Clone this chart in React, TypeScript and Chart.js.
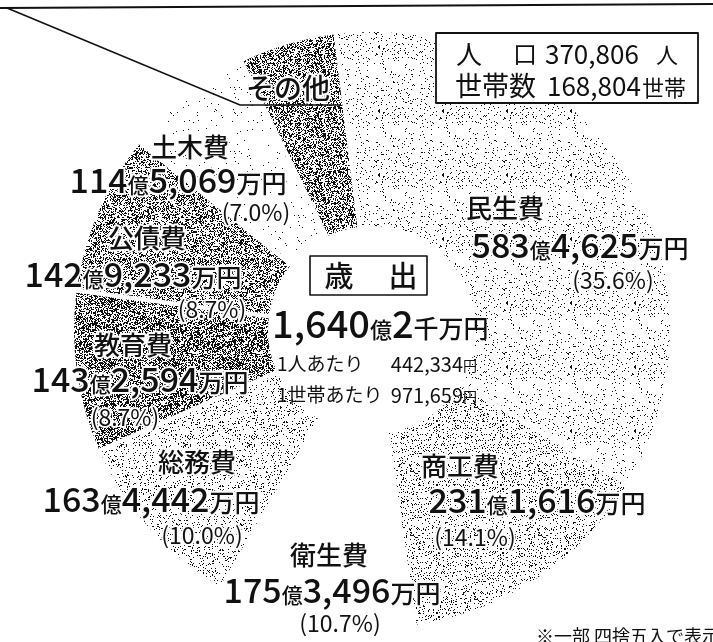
import { useEffect, useRef } from 'react';
import { Chart, registerables } from 'chart.js';

Chart.register(...registerables);

// ---- data ----
const categories = ['民生費', '商工費', '衛生費', '総務費', '教育費', '公債費', '土木費', 'その他'];
const values = [583.4625, 231.1616, 175.3496, 163.4442, 143.2594, 142.9233, 114.5069, 86.1];
const okuLabels = ['583', '231', '175', '163', '143', '142', '114', ''];
const manLabels = ['4,625', '1,616', '3,496', '4,442', '2,594', '9,233', '5,069', ''];
const pctLabels = ['35.6%', '14.1%', '10.7%', '10.0%', '8.7%', '8.7%', '7.0%', ''];
const totalOku = '1,640';
const totalSen = '2';
const perPerson = '442,334';
const perHousehold = '971,659';
const population = '370,806';
const households = '168,804';

// ---- styling / layout ----
const dotDensity = [0.06, 0.13, 0, 0.1, 0.5, 0.38, 0.012, 0.42];
const labelLayout = [
  { name: [505, 208], amt: [580, 258], pct: [613, 280] },
  { name: [460, 466], amt: [537, 513], pct: [475, 537] },
  { name: [329, 555], amt: [332, 603], pct: [340, 623] },
  { name: [197, 462], amt: [151, 512], pct: [202, 535] },
  { name: [133, 345], amt: [140, 392], pct: [125, 417] },
  { name: [147, 238], amt: [133, 287], pct: [212, 309] },
  { name: [190, 147], amt: [178, 193], pct: [256, 212] },
  { name: [288, 88], amt: [0, 0], pct: [0, 0] },
];
const FONT = '"Noto Sans CJK JP", "Noto Sans", sans-serif';

function makePattern(density: number, seed: number): CanvasPattern | string {
  if (density <= 0) return '#ffffff';
  const c = document.createElement('canvas');
  c.width = 64;
  c.height = 64;
  const g = c.getContext('2d')!;
  g.fillStyle = '#ffffff';
  g.fillRect(0, 0, 64, 64);
  g.fillStyle = '#111111';
  let s = seed * 9301 + 49297;
  const rnd = () => {
    s = (s * 1103515245 + 12345) % 2147483648;
    return s / 2147483648;
  };
  for (let y = 0; y < 64; y++) {
    for (let x = 0; x < 64; x++) {
      if (rnd() < density) g.fillRect(x, y, 1, 1);
    }
  }
  return g.createPattern(c, 'repeat')!;
}

function drawSegs(
  ctx: CanvasRenderingContext2D,
  segs: [string, number, number?][],
  x: number,
  y: number,
  align: 'center' | 'left',
  halo = true
) {
  ctx.textAlign = 'left';
  let total = 0;
  const fontOf = (sz: number, w?: number) => `${w ?? 400} ${sz}px ${FONT}`;
  const widths = segs.map(([t, sz, w]) => {
    ctx.font = fontOf(sz, w);
    const wd = ctx.measureText(t).width;
    total += wd;
    return wd;
  });
  let cx = align === 'center' ? x - total / 2 : x;
  segs.forEach(([t, sz, w], i) => {
    ctx.font = fontOf(sz, w);
    if (halo) {
      ctx.strokeStyle = '#ffffff';
      ctx.lineWidth = 4;
      ctx.lineJoin = 'round';
      ctx.strokeText(t, cx, y);
    }
    ctx.fillStyle = '#111111';
    ctx.fillText(t, cx, y);
    cx += widths[i];
  });
}

const labelPlugin = {
  id: 'budgetLabels',
  afterDraw(chart: any) {
    const ctx: CanvasRenderingContext2D = chart.ctx;
    ctx.save();
    // frame lines
    ctx.strokeStyle = '#111';
    ctx.lineWidth = 2;
    ctx.beginPath();
    ctx.moveTo(0, 8);
    ctx.lineTo(713, 4);
    ctx.stroke();
    ctx.lineWidth = 1.6;
    ctx.beginPath();
    ctx.moveTo(7, 8);
    ctx.lineTo(240, 105);
    ctx.lineTo(340, 105);
    ctx.stroke();

    // slice labels
    categories.forEach((name, i) => {
      const L = labelLayout[i];
      ctx.textBaseline = 'middle';
      drawSegs(ctx, [[name, i === 7 ? 28 : 26, 500]], L.name[0], L.name[1], 'center');
      if (okuLabels[i]) {
        ctx.textBaseline = 'alphabetic';
        drawSegs(
          ctx,
          [[okuLabels[i], 34, 500], ['億', 21, 500], [manLabels[i], 34, 500], ['万円', 25, 500]],
          L.amt[0],
          L.amt[1],
          'center'
        );
        ctx.textBaseline = 'middle';
        drawSegs(ctx, [[`(${pctLabels[i]})`, 23]], L.pct[0], L.pct[1], 'center');
      }
    });

    // centre box
    ctx.strokeStyle = '#111';
    ctx.lineWidth = 1.6;
    ctx.strokeRect(310, 256, 117, 39);
    ctx.textBaseline = 'middle';
    drawSegs(ctx, [['歳', 29, 500]], 339, 276, 'center', false);
    drawSegs(ctx, [['出', 29, 500]], 403, 276, 'center', false);
    ctx.textBaseline = 'alphabetic';
    drawSegs(ctx, [[totalOku, 38, 500], ['億', 22, 500], [totalSen, 38, 500], ['千万円', 25, 500]], 272, 338, 'left', false);
    ctx.textBaseline = 'middle';
    drawSegs(ctx, [['1人あたり', 19]], 277, 364, 'left', false);
    drawSegs(ctx, [['1世帯あたり', 19]], 277, 395, 'left', false);
    ctx.textAlign = 'right';
    ctx.font = `400 20px ${FONT}`;
    ctx.fillStyle = '#111';
    ctx.fillText(perPerson, 463, 364);
    ctx.fillText(perHousehold, 463, 395);
    drawSegs(ctx, [['円', 14]], 463, 366, 'left', false);
    drawSegs(ctx, [['円', 14]], 463, 397, 'left', false);

    // info box
    ctx.fillStyle = '#fff';
    ctx.fillRect(436, 33, 262, 70);
    ctx.strokeStyle = '#111';
    ctx.lineWidth = 1.8;
    ctx.strokeRect(436, 33, 262, 70);
    ctx.textBaseline = 'middle';
    drawSegs(ctx, [['人', 26]], 456, 54, 'left', false);
    drawSegs(ctx, [['口', 24]], 513, 54, 'left', false);
    drawSegs(ctx, [[population, 26]], 545, 54, 'left', false);
    drawSegs(ctx, [['人', 22]], 656, 55, 'left', false);
    drawSegs(ctx, [['世帯数', 27]], 455, 86, 'left', false);
    drawSegs(ctx, [[households, 26]], 547, 86, 'left', false);
    drawSegs(ctx, [['世帯', 22]], 642, 88, 'left', false);

    // footnote
    drawSegs(ctx, [['※一部 四捨五入で表示', 18]], 536, 636, 'left', false);
    ctx.restore();
  },
};

export default function App() {
  const ref = useRef<HTMLCanvasElement>(null);
  useEffect(() => {
    const canvas = ref.current!;
    const patterns = dotDensity.map((d, i) => makePattern(d, i + 3));
    const chart = new Chart(canvas, {
      type: 'doughnut',
      data: {
        labels: categories,
        datasets: [
          {
            data: values,
            backgroundColor: patterns as any,
            borderColor: '#ffffff',
            borderWidth: 4,
            hoverOffset: 0,
          },
        ],
      },
      options: {
        responsive: false,
        animation: false,
        radius: 300,
        cutout: '34%',
        rotation: -7,
        layout: { padding: { left: 31, top: 18, right: 0, bottom: 0 } },
        plugins: { legend: { display: false }, tooltip: { enabled: false } },
      } as any,
      plugins: [labelPlugin],
    });
    return () => chart.destroy();
  }, []);
  return (
    <div style={{ position: 'fixed', left: 0, top: 0, width: 713, height: 642, background: '#fff', overflow: 'hidden' }}>
      <canvas ref={ref} width={713} height={642} style={{ display: 'block' }} />
    </div>
  );
}
